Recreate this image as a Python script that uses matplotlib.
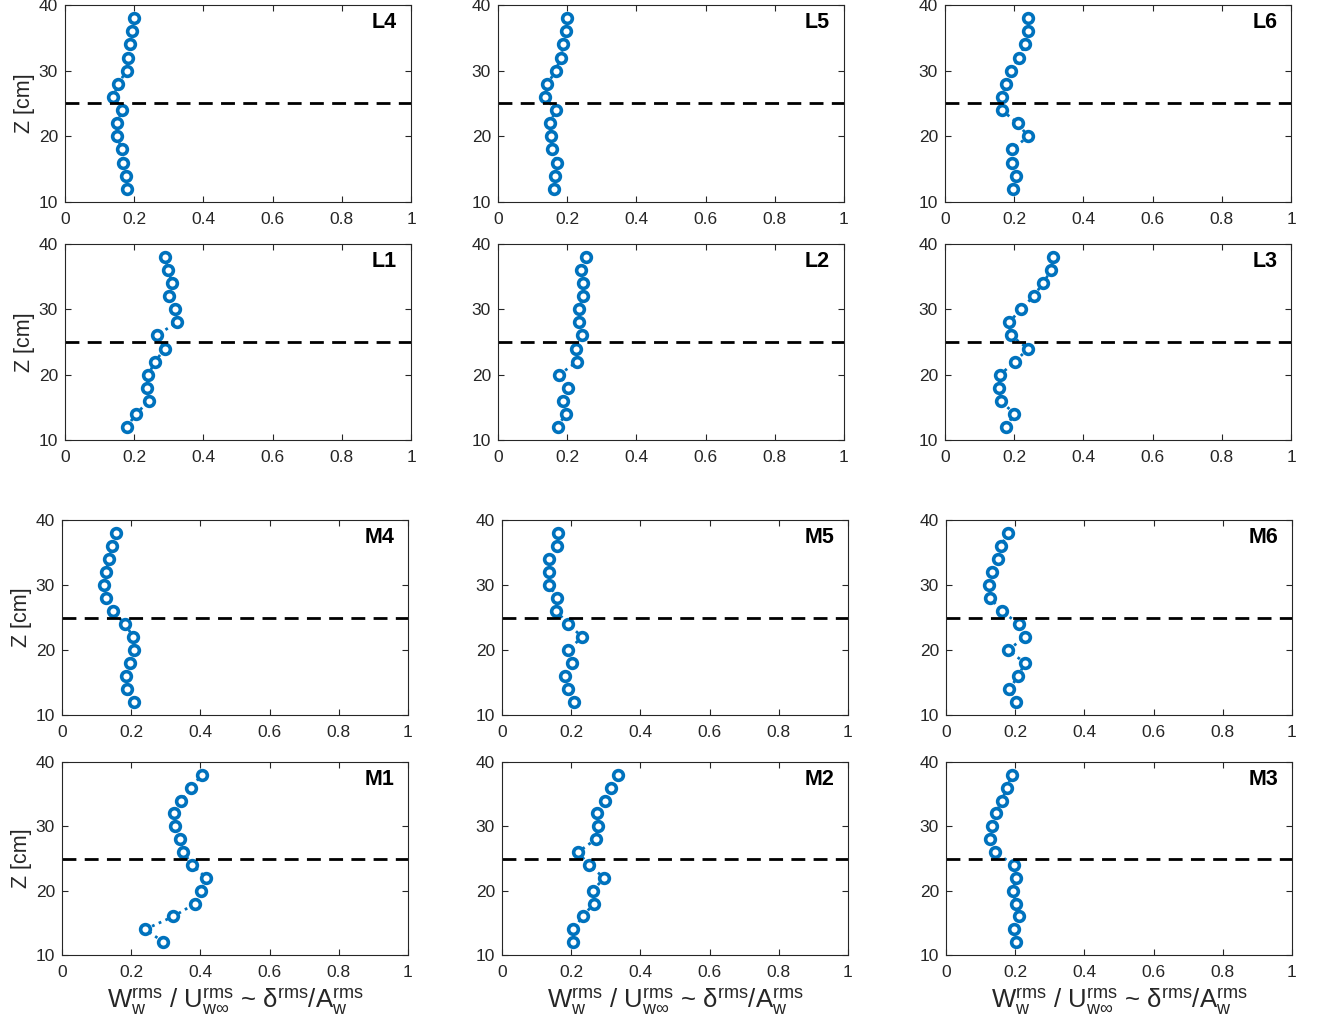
import matplotlib
matplotlib.use('Agg')
import matplotlib.pyplot as plt
import numpy as np

plt.rcParams['font.family'] = ['Liberation Sans', 'DejaVu Sans']
plt.rcParams['mathtext.default'] = 'regular'
plt.rcParams['mathtext.fontset'] = 'custom'
plt.rcParams['mathtext.rm'] = 'Liberation Sans'

# measurement heights [cm], bottom to top
z = [12, 14, 16, 18, 20, 22, 24, 26, 28, 30, 32, 34, 36, 38]
z_interface = 25

# normalised rms velocity per station, same order as z
L4 = [0.178, 0.176, 0.169, 0.164, 0.151, 0.149, 0.166, 0.140, 0.154, 0.178, 0.181, 0.188, 0.193, 0.199]
L5 = [0.163, 0.166, 0.171, 0.155, 0.152, 0.150, 0.167, 0.136, 0.143, 0.167, 0.181, 0.189, 0.196, 0.200]
L6 = [0.196, 0.206, 0.195, 0.195, 0.240, 0.210, 0.164, 0.164, 0.176, 0.192, 0.214, 0.231, 0.239, 0.239]
L1 = [0.178, 0.206, 0.242, 0.236, 0.241, 0.260, 0.289, 0.265, 0.323, 0.318, 0.302, 0.310, 0.298, 0.289]
L2 = [0.172, 0.196, 0.187, 0.203, 0.177, 0.229, 0.225, 0.243, 0.234, 0.234, 0.246, 0.246, 0.241, 0.255]
L3 = [0.177, 0.200, 0.162, 0.155, 0.159, 0.203, 0.240, 0.190, 0.185, 0.219, 0.256, 0.283, 0.307, 0.312]
M4 = [0.208, 0.189, 0.185, 0.197, 0.209, 0.206, 0.182, 0.146, 0.126, 0.122, 0.126, 0.136, 0.144, 0.155]
M5 = [0.209, 0.192, 0.181, 0.201, 0.191, 0.232, 0.191, 0.157, 0.160, 0.136, 0.136, 0.135, 0.159, 0.162]
M6 = [0.203, 0.183, 0.209, 0.228, 0.180, 0.228, 0.210, 0.161, 0.128, 0.123, 0.134, 0.149, 0.158, 0.180]
M1 = [0.293, 0.241, 0.322, 0.385, 0.402, 0.417, 0.376, 0.351, 0.341, 0.327, 0.325, 0.345, 0.373, 0.404]
M2 = [0.205, 0.205, 0.234, 0.265, 0.263, 0.295, 0.251, 0.220, 0.271, 0.277, 0.276, 0.297, 0.316, 0.335]
M3 = [0.202, 0.196, 0.210, 0.202, 0.193, 0.202, 0.196, 0.141, 0.127, 0.133, 0.144, 0.161, 0.176, 0.190]

names = [['L4', 'L5', 'L6'], ['L1', 'L2', 'L3'], ['M4', 'M5', 'M6'], ['M1', 'M2', 'M3']]
series = {'L4': L4, 'L5': L5, 'L6': L6, 'L1': L1, 'L2': L2, 'L3': L3,
          'M4': M4, 'M5': M5, 'M6': M6, 'M1': M1, 'M2': M2, 'M3': M3}

W, H = 1321., 1025.
# axes boxes in pixels: (top, bottom) per row, column lefts per row
row_box = [(5, 202), (244, 440), (520, 715), (762, 955)]
col_left = [[65, 498, 945], [65, 498, 945], [62, 502, 946], [62, 502, 946]]
ax_w = 346

blue = '#0072BD'
grey = '#262626'
xlab = r'$W_w^{rms}$ / $U_{w\infty}^{rms}$ ~ $\delta^{rms}$/$A_w^{rms}$'

fig = plt.figure(figsize=(W / 100, H / 100), dpi=100)
for r in range(4):
    top, bot = row_box[r]
    for c in range(3):
        left = col_left[r][c]
        ax = fig.add_axes([left / W, 1 - bot / H, ax_w / W, (bot - top) / H])
        name = names[r][c]
        ax.plot(series[name], z, ':', color=blue, lw=2,
                marker='o', ms=7, mfc='white', mec=blue, mew=2.6)
        ax.axhline(z_interface, color='k', ls='--', lw=2, dashes=(5, 3))
        ax.set_xlim(0, 1)
        ax.set_ylim(10, 40)
        ax.set_xticks([0, 0.2, 0.4, 0.6, 0.8, 1])
        ax.set_xticklabels(['0', '0.2', '0.4', '0.6', '0.8', '1'])
        ax.set_yticks([10, 20, 30, 40])
        ax.tick_params(direction='in', top=True, right=True, length=4,
                       width=0.8, color=grey, labelcolor=grey, labelsize=12.5, pad=5)
        ax.tick_params(axis='x', pad=7)
        for s in ax.spines.values():
            s.set_color(grey)
            s.set_linewidth(0.8)
        ax.text(0.96, 0.965, name, transform=ax.transAxes, ha='right', va='top',
                fontsize=15.5, fontweight='bold')
        if c == 0:
            ax.set_ylabel('Z [cm]', fontsize=15.5, color=grey, labelpad=3)
        if r == 3:
            ax.set_xlabel(xlab, fontsize=18.5, color=grey, labelpad=5)

plt.savefig('out.png', dpi=100)
